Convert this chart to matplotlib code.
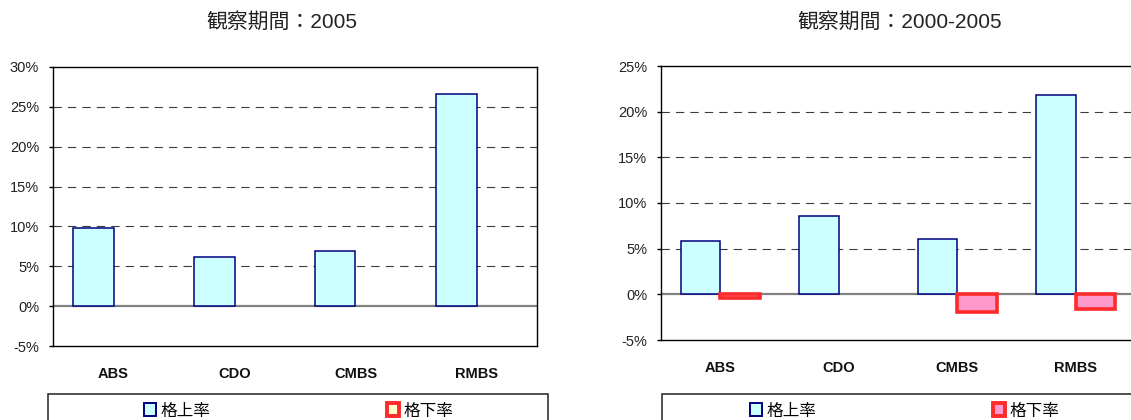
import numpy as np
import matplotlib
matplotlib.use("Agg")
import matplotlib.pyplot as plt
import matplotlib.patches as mpatches
from matplotlib.ticker import FuncFormatter

plt.rcParams['font.family'] = ['Liberation Sans', 'Noto Sans CJK JP', 'DejaVu Sans']

categories = ["ABS", "CDO", "CMBS", "RMBS"]

# 観察期間：2005
up_2005 = [9.8, 6.2, 6.9, 26.6]
down_2005 = [np.nan, np.nan, np.nan, np.nan]

# 観察期間：2000-2005
up_0005 = [5.8, 8.6, 6.1, 21.8]
down_0005 = [-0.35, np.nan, -1.9, -1.6]

titles = ["観察期間：2005", "観察期間：2000-2005"]
legend_labels = ["格上率", "格下率"]

W, H = 1131, 420
fig = plt.figure(figsize=(W / 100, H / 100), dpi=100)

def fx(px):
    return px / W

def fy(py):
    return 1 - py / H

up_face, up_edge = "#ccffff", "#000080"
down_face, down_edge = "#ff99cc", "#ff2a2a"
grid_col = "#3c3c3c"
jp = ['Noto Sans CJK JP', 'DejaVu Sans']
title_font = ['Liberation Sans', 'Noto Sans CJK JP']
narrow = ['Liberation Sans Narrow', 'Liberation Sans', 'DejaVu Sans']


def draw_panel(rect, up, down, ylim, title, title_x, leg_box, leg_x, leg_down_face):
    ax = fig.add_axes(rect)
    x = np.arange(len(categories))
    w = 1 / 3
    ax.bar(x - w / 2, up, w, color=up_face, edgecolor=up_edge, linewidth=1.1, zorder=3)
    ax.bar(x + w / 2, down, w, color=down_face, edgecolor=down_edge, linewidth=2.6, zorder=3)
    ax.set_xlim(-0.5, len(categories) - 0.5)
    ax.set_ylim(*ylim)
    ticks = np.arange(ylim[0], ylim[1] + 0.1, 5)
    ax.set_yticks(ticks)
    ax.yaxis.set_major_formatter(FuncFormatter(lambda v, p: f"{v:.0f}%"))
    for t in ticks:
        if t == 0:
            ax.axhline(0, color="#808080", linewidth=1.6, zorder=2)
        elif ylim[0] < t < ylim[1]:
            ax.axhline(t, color=grid_col, linewidth=0.8, linestyle=(0, (7.5, 5.5)), zorder=1)
    ax.set_xticks(x)
    ax.set_xticklabels(categories, fontweight="bold", fontsize=10.5, family=narrow, color="#111111")
    ax.tick_params(axis="x", length=0, pad=15)
    ax.tick_params(axis="y", length=3, width=1, pad=7, labelsize=10.5, labelcolor="#222222")
    for s in ax.spines.values():
        s.set_linewidth(1.0)
        s.set_color("black")

    fig.text(fx(title_x), fy(22), title, ha="center", va="center", fontsize=15,
             family=title_font, color="#222222")

    # legend box under the panel
    bx0, bx1, by0 = leg_box
    fig.patches.append(mpatches.Rectangle((fx(bx0), fy(H + 20)), fx(bx1 - bx0), fy(by0) - fy(H + 20),
                                          transform=fig.transFigure, fill=False,
                                          edgecolor="#333333", linewidth=1.2))
    handles = [mpatches.Patch(facecolor=up_face, edgecolor=up_edge, linewidth=1.4),
               mpatches.Patch(facecolor=leg_down_face, edgecolor=down_edge, linewidth=2.8)]
    fig.legend(handles, legend_labels, ncol=2, loc="center", frameon=False,
               bbox_to_anchor=(fx(leg_x), fy(411)), prop={'family': jp, 'size': 12},
               handlelength=0.7, handleheight=0.8, handletextpad=0.3, columnspacing=10.6)
    return ax


draw_panel([fx(53), fy(346), fx(537 - 53), fy(67) - fy(346)], up_2005, down_2005, (-5, 30),
           titles[0], 282, (48, 548, 394), 299, "#ffffcc")
draw_panel([fx(661), fy(340), fx(1135 - 661), fy(66) - fy(340)], up_0005, down_0005, (-5, 25),
           titles[1], 900, (662, 1145, 394), 905, down_face)

fig.savefig("out.png", dpi=100)
